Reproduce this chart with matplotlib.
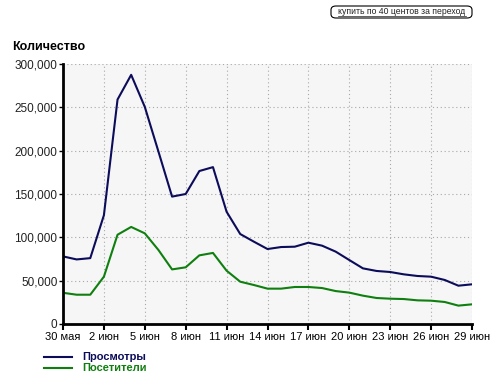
import matplotlib.pyplot as plt
from matplotlib.patches import FancyBboxPatch
from matplotlib.lines import Line2D
from matplotlib.ticker import FuncFormatter

# daily values, 30 May .. 29 Jun
days = list(range(31))
views = [78000, 74500, 76000, 125500, 259000, 287500, 250500, 199000, 147000, 150000,
         176500, 181000, 129500, 103800, 95000, 86500, 88800, 89200, 93800, 90400,
         83500, 73800, 64200, 61200, 60000, 57300, 55400, 54600, 50800, 44200, 45800]
visitors = [36000, 33800, 33800, 54600, 103000, 112000, 104600, 85400, 63000, 65400,
            79200, 82000, 61500, 48800, 45000, 40800, 40800, 42700, 42700, 41500,
            38000, 36200, 32700, 30000, 29200, 28800, 27300, 26900, 25400, 21200, 22700]
tick_days = [0, 3, 6, 9, 12, 15, 18, 21, 24, 27, 30]
tick_labels = ["30 мая", "2 июн", "5 июн", "8 июн", "11 июн", "14 июн",
               "17 июн", "20 июн", "23 июн", "26 июн", "29 июн"]
y_ticks = [0, 50000, 100000, 150000, 200000, 250000, 300000]

navy = '#0c0c5a'
green = '#0f7f0f'

plt.rcParams['font.family'] = ['Liberation Sans', 'DejaVu Sans']

fig = plt.figure(figsize=(5, 3.87), dpi=100)
W, H = 500, 387
ax = fig.add_axes([63 / W, (H - 324) / H, 409 / W, 260 / H])
ax.set_facecolor('#f6f6f6')

ax.plot(days, views, color=navy, lw=1.5)
ax.plot(days, visitors, color=green, lw=1.5)

ax.set_xlim(0, 30)
ax.set_ylim(0, 300000)
ax.set_xticks(tick_days)
ax.set_xticklabels(tick_labels)
ax.set_yticks(y_ticks)
ax.yaxis.set_major_formatter(FuncFormatter(lambda v, p: f"{int(v):,}"))

for s in ['top', 'right']:
    ax.spines[s].set_visible(False)
for s in ['left', 'bottom']:
    ax.spines[s].set_linewidth(2)
    ax.spines[s].set_color('black')

ax.grid(True, color='#a8a8a8', linestyle=(0, (1, 2.5)), linewidth=0.8)
ax.tick_params(axis='x', direction='out', length=4, width=1.5, pad=2,
               labelsize=8, colors='black')
ax.tick_params(axis='y', direction='out', length=3, width=1, pad=1,
               labelsize=8.5, colors='black')
for lbl in ax.get_yticklabels():
    lbl.set_color('#222222')

fig.text(12 / W, 1 - 47 / H, "Количество", fontsize=9, fontweight='bold',
         va='center', ha='left')

# button in top right corner
btn = FancyBboxPatch((331 / W, 1 - 18 / H), 141 / W, 12 / H,
                     boxstyle="round,pad=0,rounding_size=0.01",
                     transform=fig.transFigure, facecolor='white',
                     edgecolor='black', lw=0.8)
fig.patches.append(btn)
fig.text(402 / W, 1 - 12 / H, "купить по 40 центов за переход", fontsize=6.2,
         ha='center', va='center', color='#222222')
fig.add_artist(Line2D([338 / W, 466 / W], [1 - 15.5 / H, 1 - 15.5 / H],
                      transform=fig.transFigure, color='#222222', lw=0.5))

# legend
for yy, col, name in [(357, navy, "Просмотры"), (368, green, "Посетители")]:
    fig.add_artist(Line2D([44 / W, 72 / W], [1 - yy / H, 1 - yy / H],
                          transform=fig.transFigure, color=col, lw=1.5))
    fig.text(82 / W, 1 - yy / H, name, fontsize=8, fontweight='bold',
             color=col, va='center', ha='left')

fig.savefig('out.png', dpi=100, facecolor='white')
